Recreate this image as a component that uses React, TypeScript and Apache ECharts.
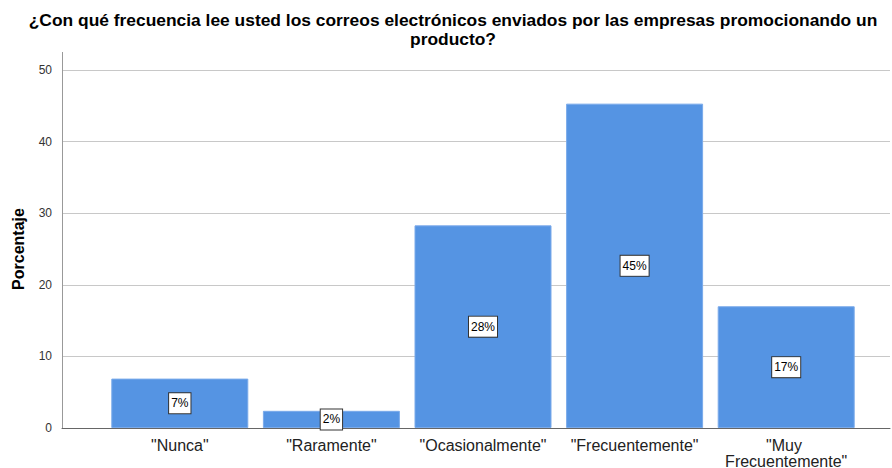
import React, { useEffect, useRef } from "react";
import * as echarts from "echarts";

const titleText =
  "¿Con qué frecuencia lee usted los correos electrónicos enviados por las empresas promocionando un\nproducto?";
const categories = [
  '"Nunca"',
  '"Raramente"',
  '"Ocasionalmente"',
  '"Frecuentemente"',
  '"Muy Frecuentemente"',
];
const percentages = [6.9, 2.4, 28.3, 45.3, 17.0];
const yTicks = { min: 0, max: 50, interval: 10 };
const yName = "Porcentaje";

export default function App() {
  const ref = useRef<HTMLDivElement>(null);
  useEffect(() => {
    if (!ref.current) return;
    const chart = echarts.init(ref.current, undefined, { renderer: "svg" });
    const font = "Liberation Sans, Arial, sans-serif";
    chart.setOption({
      animation: false,
      backgroundColor: "#ffffff",
      title: {
        text: titleText,
        left: 453,
        top: 10,
        textAlign: "center",
        padding: 0,
        textStyle: {
          fontFamily: font,
          fontSize: 17.4,
          fontWeight: "bold",
          color: "#000",
          lineHeight: 19,
        },
      },
      grid: [
        { left: 62, right: 2, top: 70, bottom: 40, outerBoundsMode: "none", containLabel: false },
        { left: 104, right: 30, top: 70, bottom: 40, outerBoundsMode: "none", containLabel: false },
      ],
      xAxis: [
        {
          gridIndex: 0,
          type: "category",
          data: categories,
          axisLabel: { show: false },
          axisTick: { show: false },
          axisLine: { show: true, lineStyle: { color: "#666", width: 1 } },
          splitLine: { show: false },
        },
        {
          gridIndex: 1,
          type: "category",
          data: categories,
          axisLine: { show: false },
          axisTick: { show: false },
          splitLine: { show: false },
          axisLabel: {
            show: true,
            interval: 0,
            margin: 9,
            fontFamily: font,
            fontSize: 16,
            color: "#222",
            lineHeight: 16,
            width: 145,
            overflow: "break",
          },
        },
      ],
      yAxis: [
        {
          gridIndex: 0,
          type: "value",
          min: yTicks.min,
          max: yTicks.max,
          interval: yTicks.interval,
          name: yName,
          nameLocation: "middle",
          nameGap: 36,
          nameTextStyle: {
            fontFamily: font,
            fontSize: 16,
            fontWeight: "bold",
            color: "#000",
          },
          axisLine: { show: true, lineStyle: { color: "#999", width: 1 } },
          axisTick: { show: false },
          axisLabel: {
            margin: 10,
            fontFamily: font,
            fontSize: 12,
            color: "#333",
          },
          splitLine: { show: true, lineStyle: { color: "#c8c8c8", width: 1 } },
        },
        {
          gridIndex: 1,
          type: "value",
          min: yTicks.min,
          max: yTicks.max,
          interval: yTicks.interval,
          show: false,
          splitLine: { show: false },
        },
      ],
      graphic: [
        {
          type: "line",
          shape: { x1: 62.5, y1: 52, x2: 62.5, y2: 70 },
          style: { stroke: "#999", lineWidth: 1 },
          silent: true,
        },
      ],
      series: [
        {
          type: "bar",
          xAxisIndex: 1,
          yAxisIndex: 1,
          data: percentages,
          barWidth: 137,
          itemStyle: { color: "#5594e3", borderColor: "#7aaaea", borderWidth: 1 },
          label: {
            show: true,
            position: "inside",
            formatter: (p: any) => Math.round(p.value) + "%",
            fontFamily: font,
            fontSize: 12,
            color: "#000",
            backgroundColor: "#fff",
            borderColor: "#333",
            borderWidth: 1,
            padding: [3, 2],
            lineHeight: 14,
          },
        },
      ],
    });
    return () => chart.dispose();
  }, []);
  return (
    <div
      ref={ref}
      style={{ position: "fixed", left: 0, top: 0, width: 892, height: 468 }}
    />
  );
}
